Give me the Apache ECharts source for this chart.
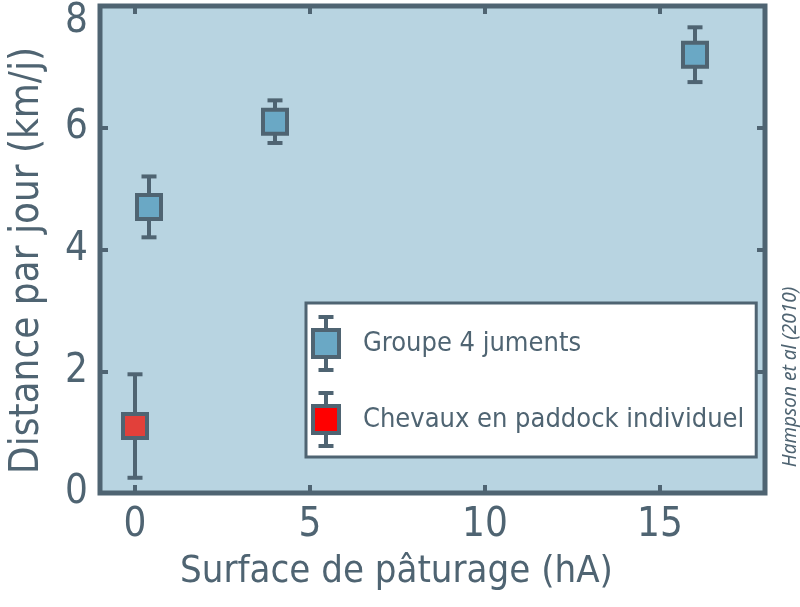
<!DOCTYPE html>
<html>
<head>
<meta charset="utf-8">
<script src="https://cdn.jsdelivr.net/npm/echarts@6/dist/echarts.min.js"></script>
<style>
html,body{margin:0;padding:0;background:#ffffff;}
#chart{width:800px;height:607px;}
</style>
</head>
<body>
<div id="chart"></div>
<script>
// ---- data ----
const seriesNames = ['Groupe 4 juments', 'Chevaux en paddock individuel'];
const groupX = [0.4, 4, 16];
const groupY = [4.7, 6.1, 7.2];
const groupErr = [0.5, 0.35, 0.45];
const paddockX = [0];
const paddockY = [1.1];
const paddockErr = [0.85];
const xTicks = [0, 5, 10, 15];
const yTicks = [0, 2, 4, 6, 8];
const xTitle = 'Surface de pâturage (hA)';
const yTitle = 'Distance par jour (km/j)';
const sourceNote = 'Hampson et al (2010)';

// ---- style ----
const dark = '#4f6472';
const bg = '#b8d4e1';
const blue = '#6aa8c5';
const red = '#e2403a';
const legendRed = '#ff0000';
const font = '"DejaVu Sans Condensed", "Liberation Sans Narrow", "DejaVu Sans", sans-serif';

function iconFor(fill) {
  const svg = '<svg xmlns="http://www.w3.org/2000/svg" width="30" height="57" viewBox="0 0 30 57">' +
    '<line x1="15" y1="2" x2="15" y2="55" stroke="' + dark + '" stroke-width="4"/>' +
    '<line x1="7.5" y1="2" x2="22.5" y2="2" stroke="' + dark + '" stroke-width="4"/>' +
    '<line x1="7.5" y1="55" x2="22.5" y2="55" stroke="' + dark + '" stroke-width="4"/>' +
    '<rect x="2" y="15" width="26" height="27" fill="' + fill + '" stroke="' + dark + '" stroke-width="4"/>' +
    '</svg>';
  return 'image://data:image/svg+xml;charset=utf-8,' + encodeURIComponent(svg);
}

function renderItem(params, api) {
  const x = api.value(0), y = api.value(1), e = api.value(2);
  const c = api.coord([x, y]);
  const t = api.coord([x, y + e]);
  const b = api.coord([x, y - e]);
  const half = 7.5, s = 24;
  const ls = { stroke: dark, lineWidth: 4 };
  return {
    type: 'group',
    children: [
      { type: 'line', shape: { x1: c[0], y1: t[1], x2: c[0], y2: b[1] }, style: ls },
      { type: 'line', shape: { x1: c[0] - half, y1: t[1], x2: c[0] + half, y2: t[1] }, style: ls },
      { type: 'line', shape: { x1: c[0] - half, y1: b[1], x2: c[0] + half, y2: b[1] }, style: ls },
      { type: 'rect', shape: { x: c[0] - s / 2, y: c[1] - s / 2, width: s, height: s },
        style: { fill: api.visual('color'), stroke: dark, lineWidth: 4 } }
    ]
  };
}

const chart = echarts.init(document.getElementById('chart'), null, { renderer: 'canvas' });
const tickStyle = { show: true, inside: true, length: 8, lineStyle: { color: dark, width: 4 } };
const noLine = { show: false, onZero: false };
const yMax = yTicks[yTicks.length - 1];

chart.setOption({
  backgroundColor: '#ffffff',
  animation: false,
  grid: {
    left: 100, right: 35, top: 6, bottom: 114,
    containLabel: false, outerBoundsMode: 'none',
    show: true, backgroundColor: bg, borderColor: dark, borderWidth: 5
  },
  xAxis: [{
    type: 'value', min: -1, max: 18, position: 'bottom',
    splitLine: { show: false },
    axisLine: noLine,
    axisTick: Object.assign({ customValues: xTicks }, tickStyle),
    axisLabel: { customValues: xTicks, color: dark, fontSize: 40, fontFamily: font, margin: 13 },
    name: xTitle, nameLocation: 'middle', nameGap: 60,
    nameTextStyle: { color: dark, fontSize: 38, fontFamily: font, padding: [0, 72, 0, 0] }
  }, {
    type: 'value', min: -1, max: 18, position: 'top',
    splitLine: { show: false }, axisLine: noLine,
    axisTick: Object.assign({ customValues: xTicks }, tickStyle),
    axisLabel: { show: false }
  }],
  yAxis: [{
    type: 'value', min: 0, max: 8, interval: 2, position: 'left',
    splitLine: { show: false },
    axisLine: noLine,
    axisTick: Object.assign({ customValues: yTicks }, tickStyle),
    axisLabel: {
      customValues: yTicks, color: dark, fontSize: 40, fontFamily: font, margin: 12,
      formatter: v => (v === yMax ? '{top|' + v + '}' : String(v)),
      rich: { top: { color: dark, fontSize: 40, fontFamily: font, padding: [32, 0, 0, 0] } }
    },
    name: yTitle, nameLocation: 'middle', nameGap: 52,
    nameTextStyle: { color: dark, fontSize: 40, fontFamily: font, padding: [0, 22, 0, 0] }
  }, {
    type: 'value', min: 0, max: 8, interval: 2, position: 'right',
    splitLine: { show: false }, axisLine: noLine,
    axisTick: Object.assign({ customValues: yTicks }, tickStyle),
    axisLabel: { show: false }
  }],
  legend: {
    orient: 'vertical',
    left: 306, top: 303,
    padding: [12, 12, 9, 5],
    itemGap: 19,
    itemWidth: 30, itemHeight: 57,
    backgroundColor: '#ffffff',
    borderColor: dark, borderWidth: 3, borderRadius: 0,
    textStyle: { color: dark, fontSize: 27, fontFamily: font, padding: [0, 0, 0, 17] },
    data: [
      { name: seriesNames[0], icon: iconFor(blue) },
      { name: seriesNames[1], icon: iconFor(legendRed) }
    ]
  },
  graphic: [{
    type: 'text', x: 791, y: 377, rotation: Math.PI / 2,
    style: {
      text: sourceNote, fill: dark, fontSize: 19, fontStyle: 'italic',
      fontFamily: '"Noto Sans", "DejaVu Sans", sans-serif', align: 'center', verticalAlign: 'middle'
    }
  }],
  series: [{
    name: seriesNames[0], type: 'custom', renderItem: renderItem,
    itemStyle: { color: blue },
    encode: { x: 0, y: 1 },
    data: groupX.map((x, i) => [x, groupY[i], groupErr[i]])
  }, {
    name: seriesNames[1], type: 'custom', renderItem: renderItem,
    itemStyle: { color: red },
    encode: { x: 0, y: 1 },
    data: paddockX.map((x, i) => [x, paddockY[i], paddockErr[i]])
  }]
});
</script>
</body>
</html>
